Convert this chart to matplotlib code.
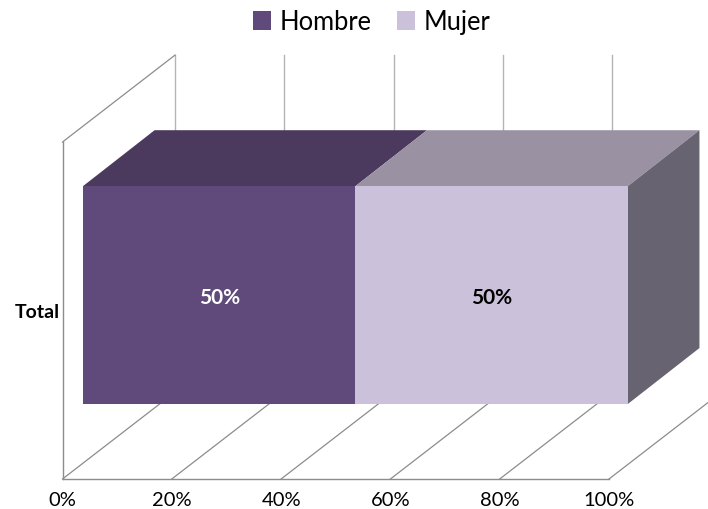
import matplotlib
matplotlib.use('Agg')
import matplotlib.pyplot as plt
from matplotlib.patches import Polygon, Rectangle

categories = ['Total']
series_names = ['Hombre', 'Mujer']
series_values = [50, 50]
x_ticks = [0, 20, 40, 60, 80, 100]

front_colors = ['#604a7b', '#ccc1da']
top_colors = ['#4b3a5e', '#9a91a3']
side_color = '#686370'
label_colors = ['white', 'black']

W, H = 708, 509
# fake 3d depth, in axis units (x is percent, y is 0-1 wall height)
wall_dx, wall_dy = 20.6, 0.258
bar_x0, bar_y0, bar_y1 = 3.75, 0.2226, 0.869
bar_dx, bar_dy = 13.1, 0.166
bar_scale = 0.997
# legend swatch left edges, pixels
legend_x = [253, 397]

plt.rcParams['font.family'] = ['Lato', 'DejaVu Sans']

fig = plt.figure(figsize=(W / 100, H / 100), dpi=100)
ax = fig.add_axes([62.5 / W, 1 - 479 / H, 546.5 / W, 337 / H])
ax.set_xlim(0, 100)
ax.set_ylim(0, 1)
ax.patch.set_visible(False)

for s in ['top', 'right']:
    ax.spines[s].set_visible(False)
for s in ['left', 'bottom']:
    ax.spines[s].set_color('#8c8c8c')
    ax.spines[s].set_linewidth(1)

ax.set_xticks(x_ticks)
ax.set_xticklabels(['%d%%' % t for t in x_ticks], fontsize=14.5, color='black')
ax.set_yticks([0.5])
ax.set_yticklabels(categories, fontsize=14, fontweight='bold', color='black')
ax.tick_params(axis='both', length=0)
ax.tick_params(axis='x', pad=9.5)
ax.tick_params(axis='y', pad=2)

# floor diagonals and back wall lines
for t in x_ticks:
    ax.plot([t, t + wall_dx], [0, wall_dy], color='#8c8c8c', lw=0.9, clip_on=False, zorder=1)
    ax.plot([t + wall_dx, t + wall_dx], [wall_dy, 1 + wall_dy], color='#b4b4b4', lw=1, clip_on=False, zorder=1)
ax.plot([0, wall_dx], [1, 1 + wall_dy], color='#8c8c8c', lw=0.9, clip_on=False, zorder=1)

# stacked bar, front and top faces per series
left = bar_x0
scale = bar_scale * 100 / sum(series_values)
for i, v in enumerate(series_values):
    w = v * scale
    front = [(left, bar_y0), (left + w, bar_y0), (left + w, bar_y1), (left, bar_y1)]
    top = [(left, bar_y1), (left + w, bar_y1), (left + w + bar_dx, bar_y1 + bar_dy), (left + bar_dx, bar_y1 + bar_dy)]
    ax.add_patch(Polygon(top, closed=True, fc=top_colors[i], ec='none', clip_on=False, zorder=3))
    ax.add_patch(Polygon(front, closed=True, fc=front_colors[i], ec='none', clip_on=False, zorder=4))
    ax.text(left + w / 2, (bar_y0 + bar_y1) / 2 - 0.009, '%d%%' % v, color=label_colors[i], fontsize=15,
            fontweight='bold', ha='center', va='center', zorder=5)
    left += w

side = [(left, bar_y0), (left + bar_dx, bar_y0 + bar_dy), (left + bar_dx, bar_y1 + bar_dy), (left, bar_y1)]
ax.add_patch(Polygon(side, closed=True, fc=side_color, ec='none', clip_on=False, zorder=3))

# legend by hand, fig.legend puts the two columns on different baselines
for name, color, lx in zip(series_names, front_colors, legend_x):
    fig.add_artist(Rectangle((lx / W, 1 - 30 / H), 18 / W, 19 / H, fc=color, ec='none',
                             transform=fig.transFigure))
    fig.text((lx + 27) / W, 1 - 30 / H, name, fontsize=18.4, color='black', ha='left', va='baseline')

fig.savefig('out.png', dpi=100)
